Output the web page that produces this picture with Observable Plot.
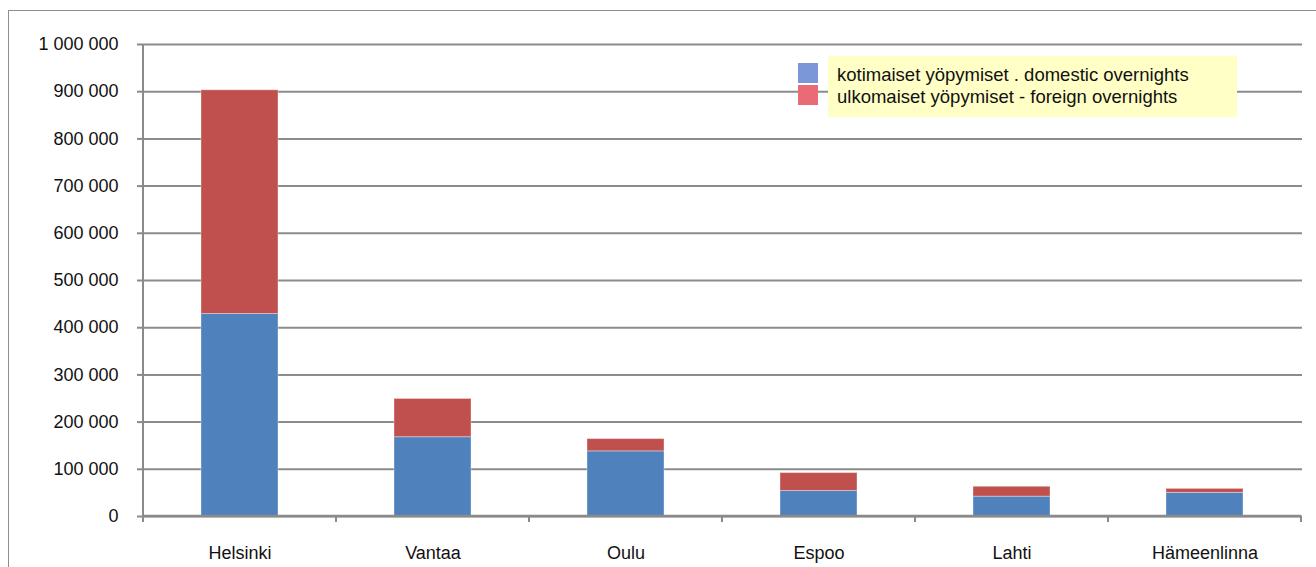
<!DOCTYPE html>
<html>
<head>
<meta charset="utf-8">
<script src="https://cdn.jsdelivr.net/npm/d3@7"></script>
<script src="https://cdn.jsdelivr.net/npm/@observablehq/plot@0.6"></script>
<style>
  html, body { margin: 0; padding: 0; background: #fff; overflow: hidden; }
  #wrap { position: relative; width: 1316px; height: 567px; font-family: "Liberation Sans", Arial, sans-serif; }
  #frame { position: absolute; left: 8px; top: 10px; width: 1330px; height: 600px; border-left: 1.5px solid #8e8e8e; border-top: 1.5px solid #8e8e8e; box-sizing: border-box; pointer-events: none; }
  #chart { position: absolute; left: 0; top: 0; }
  #legend { position: absolute; left: 798px; top: 56px; }
  .swatch { position: absolute; width: 20px; height: 20px; left: 0; }
  #legbox { position: absolute; left: 30px; top: 0; width: 409px; height: 61px; background: #ffffc6; box-sizing: border-box; padding: 8px 0 0 9px; font-size: 18.5px; line-height: 22px; color: #111; white-space: nowrap; }
</style>
</head>
<body>
<div id="wrap">
  <div id="chart"></div>
  <div id="frame"></div>
  <div id="legend">
    <div class="swatch" id="sw0" style="top:7px"></div>
    <div class="swatch" id="sw1" style="top:29px"></div>
    <div id="legbox"><div id="lt0"></div><div id="lt1"></div></div>
  </div>
</div>
<script>
const cities = ["Helsinki", "Vantaa", "Oulu", "Espoo", "Lahti", "Hämeenlinna"];
const domestic = [429000, 168000, 138000, 54000, 42000, 50000];
const foreign = [474000, 81000, 26000, 38000, 21000, 8500];
const seriesNames = ["kotimaiset yöpymiset . domestic overnights", "ulkomaiset yöpymiset - foreign overnights"];
const yTicks = [0, 100000, 200000, 300000, 400000, 500000, 600000, 700000, 800000, 900000, 1000000];

const barColors = ["#4f81bd", "#c0504d"];
const legendColors = ["#7b97d7", "#e96b76"];

const data = [];
cities.forEach((c, i) => {
  data.push({city: c, series: seriesNames[0], value: domestic[i]});
  data.push({city: c, series: seriesNames[1], value: foreign[i]});
});

const fmt = d => d3.format(",")(d).replace(/,/g, " ");

function axisDecor(index, scales, values, dims) {
  const x = scales.x, y = scales.y;
  const bw = x.bandwidth();
  const step = x.step();
  const g = d3.create("svg:g").attr("stroke", "#8a8a8a").attr("fill", "none");
  const y0 = y(0), yTop = y(yTicks[yTicks.length - 1]);
  const bounds = cities.map(c => x(c) - (step - bw) / 2);
  bounds.push(x(cities[cities.length - 1]) + bw + (step - bw) / 2);
  g.append("line").attr("x1", bounds[0]).attr("x2", bounds[0]).attr("y1", yTop).attr("y2", y0).attr("stroke-width", 2);
  g.append("line").attr("x1", bounds[0]).attr("x2", bounds[bounds.length - 1]).attr("y1", y0).attr("y2", y0).attr("stroke-width", 2.5);
  for (const b of bounds) {
    g.append("line").attr("x1", b).attr("x2", b).attr("y1", y0).attr("y2", y0 + 6).attr("stroke-width", 2);
  }
  return g.node();
}

const plot = Plot.plot({
  width: 1316,
  height: 567,
  marginLeft: 143,
  marginRight: 14,
  marginTop: 44,
  marginBottom: 51,
  style: {fontFamily: "'Liberation Sans', Arial, sans-serif", fontSize: "18px", color: "#000", background: "transparent"},
  x: {domain: cities, paddingInner: 0.6, paddingOuter: 0.3, label: null},
  y: {domain: [0, 1000000], ticks: yTicks, label: null},
  color: {domain: seriesNames, range: barColors},
  marks: [
    Plot.gridY(yTicks, {stroke: "#8c8c8c", strokeOpacity: 1, strokeWidth: 2}),
    Plot.barY(data, Plot.stackY({x: "city", y: "value", fill: "series", order: seriesNames, stroke: "#ffffff", strokeOpacity: 0.35, strokeWidth: 1})),
    axisDecor,
    Plot.axisY(yTicks, {tickSize: 6, tickPadding: 19, stroke: "#8a8a8a", strokeWidth: 2, tickFormat: fmt, fill: "#111", fontSize: 18, label: null}),
    Plot.axisX({tickSize: 0, tickPadding: 30, fill: "#111", fontSize: 18, label: null})
  ]
});
document.getElementById("chart").appendChild(plot);
document.getElementById("sw0").style.background = legendColors[0];
document.getElementById("sw1").style.background = legendColors[1];
document.getElementById("lt0").textContent = seriesNames[0];
document.getElementById("lt1").textContent = seriesNames[1];
</script>
</body>
</html>
